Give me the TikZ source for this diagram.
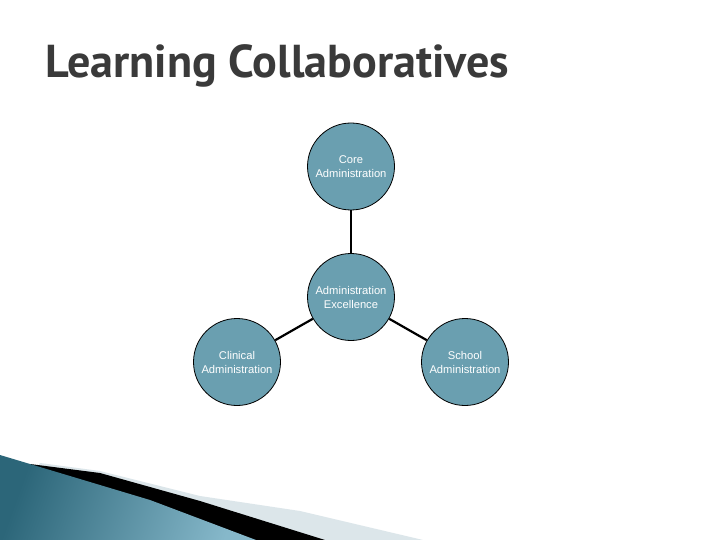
\documentclass[tikz,border=0pt]{standalone}
\usepackage{fontspec}
\setmainfont{Liberation Sans}
\newfontfamily\titlefont{PT Sans}
\usepackage{tikz}
\definecolor{bubble}{HTML}{6A9FB0}
\definecolor{wedgedark}{HTML}{2C6679}
\definecolor{wedgelight}{HTML}{86B8CA}
\definecolor{stripe}{HTML}{DCE6EA}
\definecolor{titlegrey}{HTML}{3A3A3A}

\begin{document}
\begin{tikzpicture}[x=1pt, y=-1pt,
		bubblenode/.style={circle, draw=black, line width=0.8pt, fill=bubble, minimum size=87pt, inner sep=0pt, align=center, text=white, font=\fontsize{11.2}{14}\selectfont},
		spoke/.style={line width=2.2pt, black}]
			%%%%% START %%%%%
			
			\useasboundingbox (0, 0) rectangle (720, 540);
			\fill[white] (0, 0) rectangle (720, 540);
			
			\node[anchor=base west, text=titlegrey, inner sep=0pt, font=\titlefont\bfseries\fontsize{44}{44}\selectfont] (title) at (45, 78) {\resizebox{464pt}{!}{Learning Collaboratives}};
			
			\node[bubblenode] (core) at (351, 166.5) {Core\\Administration};
			\node[bubblenode] (excellence) at (351, 297) {Administration\\Excellence};
			\node[bubblenode] (clinical) at (237, 362) {Clinical\\Administration};
			\node[bubblenode] (school) at (465, 362) {School\\Administration};
			
			\draw[spoke] (core) -- (excellence);
			\draw[spoke] (excellence) -- (clinical);
			\draw[spoke] (excellence) -- (school);
			
			\fill[stripe] (40, 463) -- (100, 471) -- (200, 496) -- (300, 511) -- (423, 540) -- (0, 540) -- cycle;
			\fill[black] (30, 464) -- (100, 473) -- (200, 501) -- (325, 540) -- (0, 540) -- cycle;
			\shade[left color=wedgedark, right color=wedgelight, shading angle=70] (0, 455) -- (80, 479) -- (150, 500) -- (256, 540) -- (0, 540) -- cycle;
			
			%%%%% END %%%%%
\end{tikzpicture}
\end{document}
